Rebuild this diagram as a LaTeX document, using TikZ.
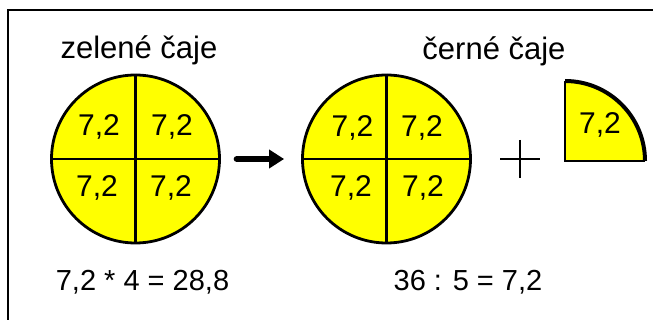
\documentclass[tikz,border=0pt]{standalone}
\usepackage{fontspec}
\setmainfont{Liberation Sans}
\usetikzlibrary{arrows.meta}
\definecolor{tyellow}{HTML}{FFFF00}
\begin{document}
\begin{tikzpicture}[x=1pt,y=-1pt,
  lbl/.style={inner sep=0pt, font=\fontsize{31}{36}\selectfont},
  eqn/.style={inner sep=0pt, font=\fontsize{29}{34}\selectfont},
  num/.style={inner sep=0pt, font=\fontsize{30}{35}\selectfont},
  disc/.style={circle, draw=black, fill=tyellow, line width=2.8pt, minimum size=168pt, inner sep=0pt},
  divider/.style={line width=2.8pt}]
\useasboundingbox (0,0) rectangle (653,320);
% frame
\draw[line width=2pt] (8,322) -- (8,10) -- (656,10);
% left circle
\node[disc] (c1) at (135.5,159) {};
\draw[divider] (c1.north) -- (c1.south);
\draw[divider] (c1.west) -- (c1.east);
% right circle
\node[disc] (c2) at (386.5,159) {};
\draw[divider] (c2.north) -- (c2.south);
\draw[divider] (c2.west) -- (c2.east);
% quarter
\coordinate (q) at (565,161);
\fill[tyellow] (q) -- (565,81) arc[start angle=-90,end angle=0,radius=80] -- cycle;
\draw[line width=2pt] (645,161) -- (q) -- (565,81);
\draw[line width=4pt] (565,81) arc[start angle=-90,end angle=0,radius=80];
\node[num] (q1) at (600,125) {7,2};
% labels
\node[lbl] (t1) at (139,50) {zelené čaje};
\node[lbl] (t2) at (494,51) {černé čaje};
\node[eqn] (e1) at (142.5,282) {7,2 * 4 = 28,8};
\node[eqn] (e2) at (468,282) {36 : 5 = 7,2};
% numbers
\node[num] (a1) at (99,127) {7,2};
\node[num] (a2) at (172,127) {7,2};
\node[num] (a3) at (97,188) {7,2};
\node[num] (a4) at (171,188) {7,2};
\node[num] (b1) at (352.5,128) {7,2};
\node[num] (b2) at (422,128) {7,2};
\node[num] (b3) at (351,188) {7,2};
\node[num] (b4) at (423,188) {7,2};
% arrow
\draw[line width=6.5pt, line cap=round, -{Triangle[length=15pt,width=18pt]}, shorten <=16pt, shorten >=17pt] (c1.east) -- (c2.west);
% plus
\node (plus) at (520,159) {};
\draw[line width=2pt] (500,159) -- (540,159);
\draw[line width=2pt] (520,140) -- (520,178);
\end{tikzpicture}
\end{document}
